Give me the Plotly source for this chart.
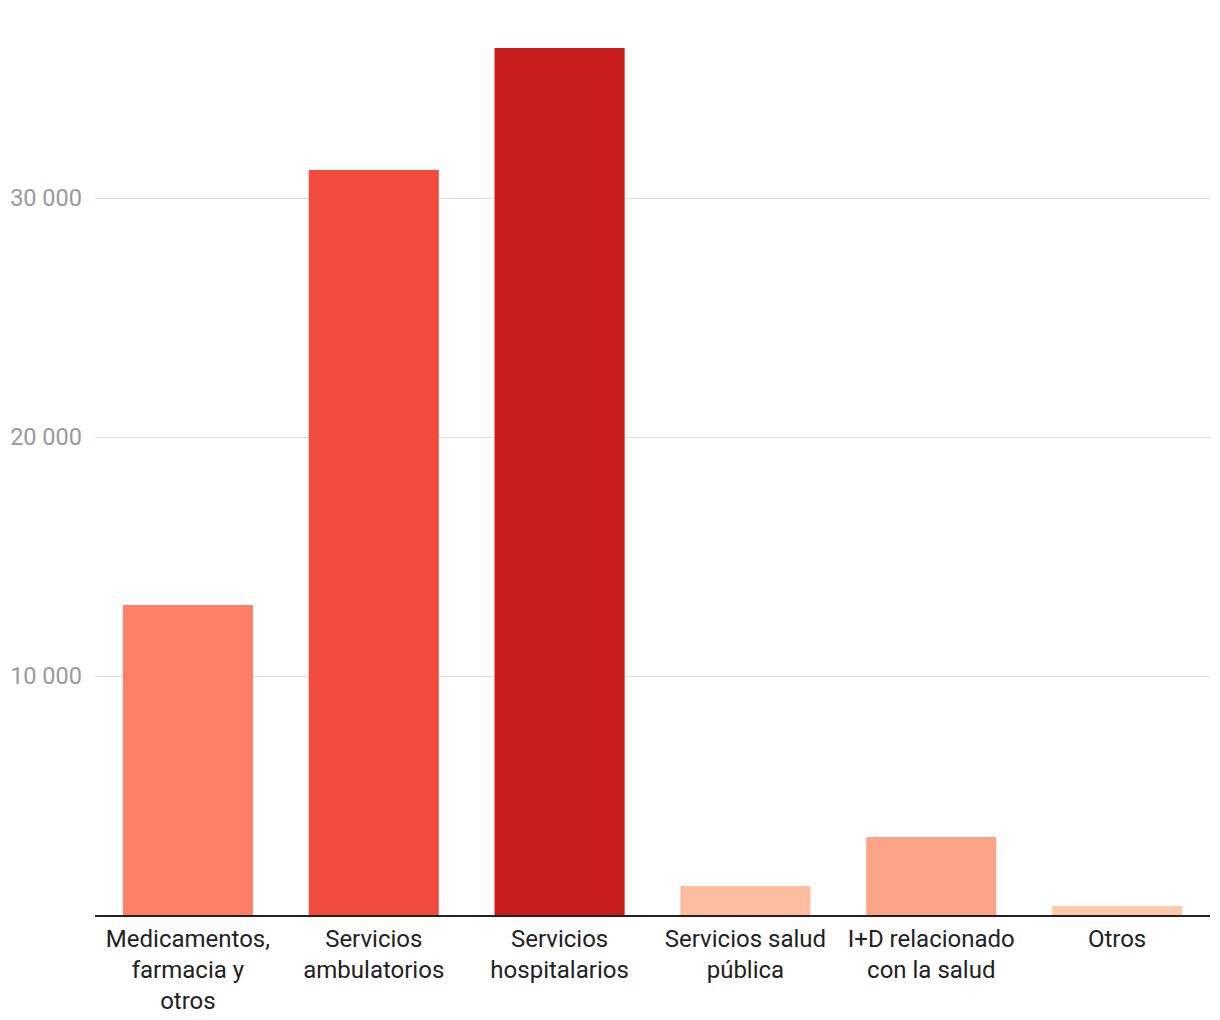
import plotly.graph_objects as go

categories = ["Medicamentos,<br>farmacia y<br>otros", "Servicios<br>ambulatorios", "Servicios<br>hospitalarios",
              "Servicios salud<br>pública", "I+D relacionado<br>con la salud", "Otros"]
values = [12970, 31170, 36280, 1210, 3260, 380]
colors = ["#FF7F66", "#F04B3C", "#C91D1D", "#FFBDA0", "#FCA286", "#FDCBAA"]
tick_vals = [10000, 20000, 30000]

fig = go.Figure(go.Bar(x=categories, y=values, marker_color=colors, marker_line_width=0,
                       hoverinfo="x+y"))

fig.update_layout(
    width=1220, height=1020,
    margin=dict(l=87, r=18, t=12, b=113, autoexpand=False),
    paper_bgcolor="white", plot_bgcolor="white",
    font=dict(family="Roboto", size=24, color="#222222"),
    bargap=0.3,
    separators=", ",
    showlegend=False,
)
fig.update_xaxes(showline=True, linecolor="#222222", linewidth=2, ticks="",
                 tickfont=dict(size=24, color="#222222"), showgrid=False,
                 ticklabelstandoff=1, automargin=False)
fig.update_yaxes(range=[0, 37450], tickvals=tick_vals, tickformat=",d",
                 showgrid=True, gridcolor="#dedede", gridwidth=1.2, zeroline=False,
                 ticks="", ticklabelstandoff=12, automargin=False,
                 tickfont=dict(size=23.5, color="#9a9a9a"))

fig.write_html("out.html")
